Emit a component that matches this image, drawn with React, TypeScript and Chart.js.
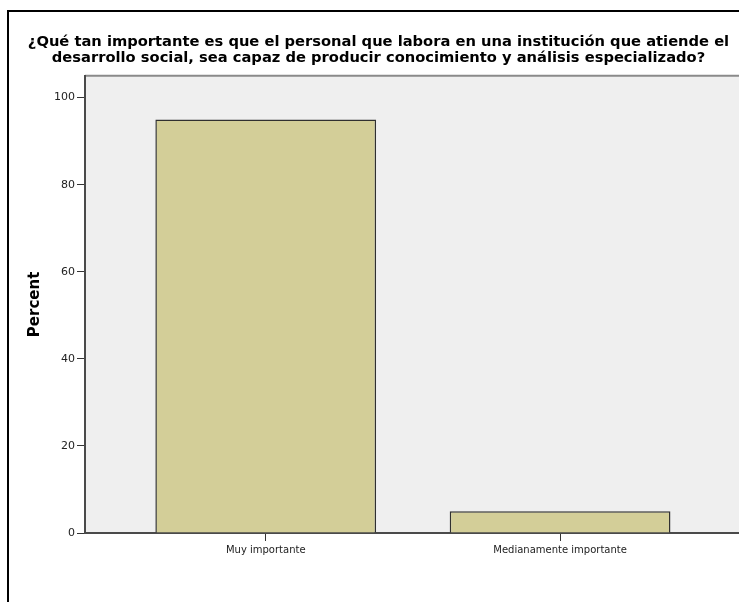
import React, { useEffect, useRef } from 'react';
import { Chart, registerables } from 'chart.js';

Chart.register(...registerables);

const titleLines = [
  '¿Qué tan importante es que el personal que labora en una institución que atiende el',
  'desarrollo social, sea capaz de producir conocimiento y análisis especializado?',
];
const categories = ['Muy importante', 'Medianamente importante'];
const percents = [95, 5];
const yTicks = [0, 20, 40, 60, 80, 100];
const yAxisTitle = 'Percent';

const Y_MAX = 105;
const X_MIN = -0.614;
const X_MAX = 1.669;

const plotBg = {
  id: 'plotBg',
  beforeDraw(chart: any) {
    const { ctx, chartArea } = chart;
    const { left, top, right, bottom } = chartArea;
    ctx.save();
    ctx.fillStyle = '#efefef';
    ctx.fillRect(left, top, right - left, bottom - top);
    ctx.strokeStyle = '#8a8a8a';
    ctx.lineWidth = 2;
    ctx.beginPath();
    ctx.moveTo(left, top);
    ctx.lineTo(right, top);
    ctx.stroke();
    ctx.restore();
  },
};

export default function App() {
  const ref = useRef<HTMLCanvasElement | null>(null);

  useEffect(() => {
    if (!ref.current) return;
    const chart = new Chart(ref.current, {
      type: 'bar',
      data: {
        datasets: [
          {
            data: percents.map((v, i) => ({ x: i, y: v })),
            backgroundColor: '#d3ce98',
            borderColor: '#303030',
            borderWidth: 1.5,
            barPercentage: 0.75,
            categoryPercentage: 1,
          },
        ],
      },
      options: {
        animation: false,
        responsive: false,
        devicePixelRatio: 1,
        layout: { padding: { top: 0, left: 0, right: 0, bottom: 39 } },
        plugins: {
          legend: { display: false },
          tooltip: { enabled: false },
          title: {
            display: true,
            text: titleLines,
            color: '#000',
            font: { family: 'DejaVu Sans', size: 14.7, weight: 'bold', lineHeight: 1.1 },
            padding: { top: 34, bottom: 9.5 },
          },
        },
        scales: {
          x: {
            type: 'linear',
            min: X_MIN,
            max: X_MAX,
            offset: false,
            afterBuildTicks: (s: any) => {
              s.ticks = categories.map((_, i) => ({ value: i }));
            },
            afterFit: (s: any) => {
              s.height = 30;
            },
            ticks: {
              autoSkip: false,
              maxRotation: 0,
              padding: 3,
              color: '#222',
              font: { family: 'DejaVu Sans', size: 10 },
              callback: (v: any) => categories[Math.round(Number(v))] ?? '',
            },
            grid: {
              offset: false,
              drawOnChartArea: false,
              drawTicks: true,
              tickLength: 8,
              color: '#333',
              lineWidth: 1,
            },
            border: { display: true, color: '#4a4a4a', width: 2 },
          },
          y: {
            type: 'linear',
            min: 0,
            max: Y_MAX,
            afterBuildTicks: (s: any) => {
              s.ticks = yTicks.map((v) => ({ value: v }));
            },
            afterFit: (s: any) => {
              s.width = 85;
            },
            ticks: {
              padding: 2,
              color: '#222',
              font: { family: 'DejaVu Sans', size: 11 },
            },
            grid: {
              drawOnChartArea: false,
              drawTicks: true,
              tickLength: 8,
              color: '#333',
              lineWidth: 1,
            },
            border: { display: true, color: '#4a4a4a', width: 2 },
            title: {
              display: true,
              text: yAxisTitle,
              color: '#000',
              font: { family: 'DejaVu Sans', size: 15, weight: 'bold' },
              padding: { top: 26, bottom: 0 },
            },
          },
        },
      },
      plugins: [plotBg],
    } as any);
    return () => chart.destroy();
  }, []);

  return (
    <div
      style={{
        position: 'absolute',
        left: 0,
        top: 0,
        width: 739,
        height: 602,
        overflow: 'hidden',
        background: '#fff',
      }}
    >
      <div
        style={{
          position: 'absolute',
          left: 7,
          top: 10,
          width: 900,
          height: 900,
          border: '2px solid #000',
          boxSizing: 'border-box',
        }}
      />
      <canvas
        ref={ref}
        width={757}
        height={602}
        style={{ position: 'absolute', left: 0, top: 0, width: 757, height: 602, display: 'block' }}
      />
    </div>
  );
}
